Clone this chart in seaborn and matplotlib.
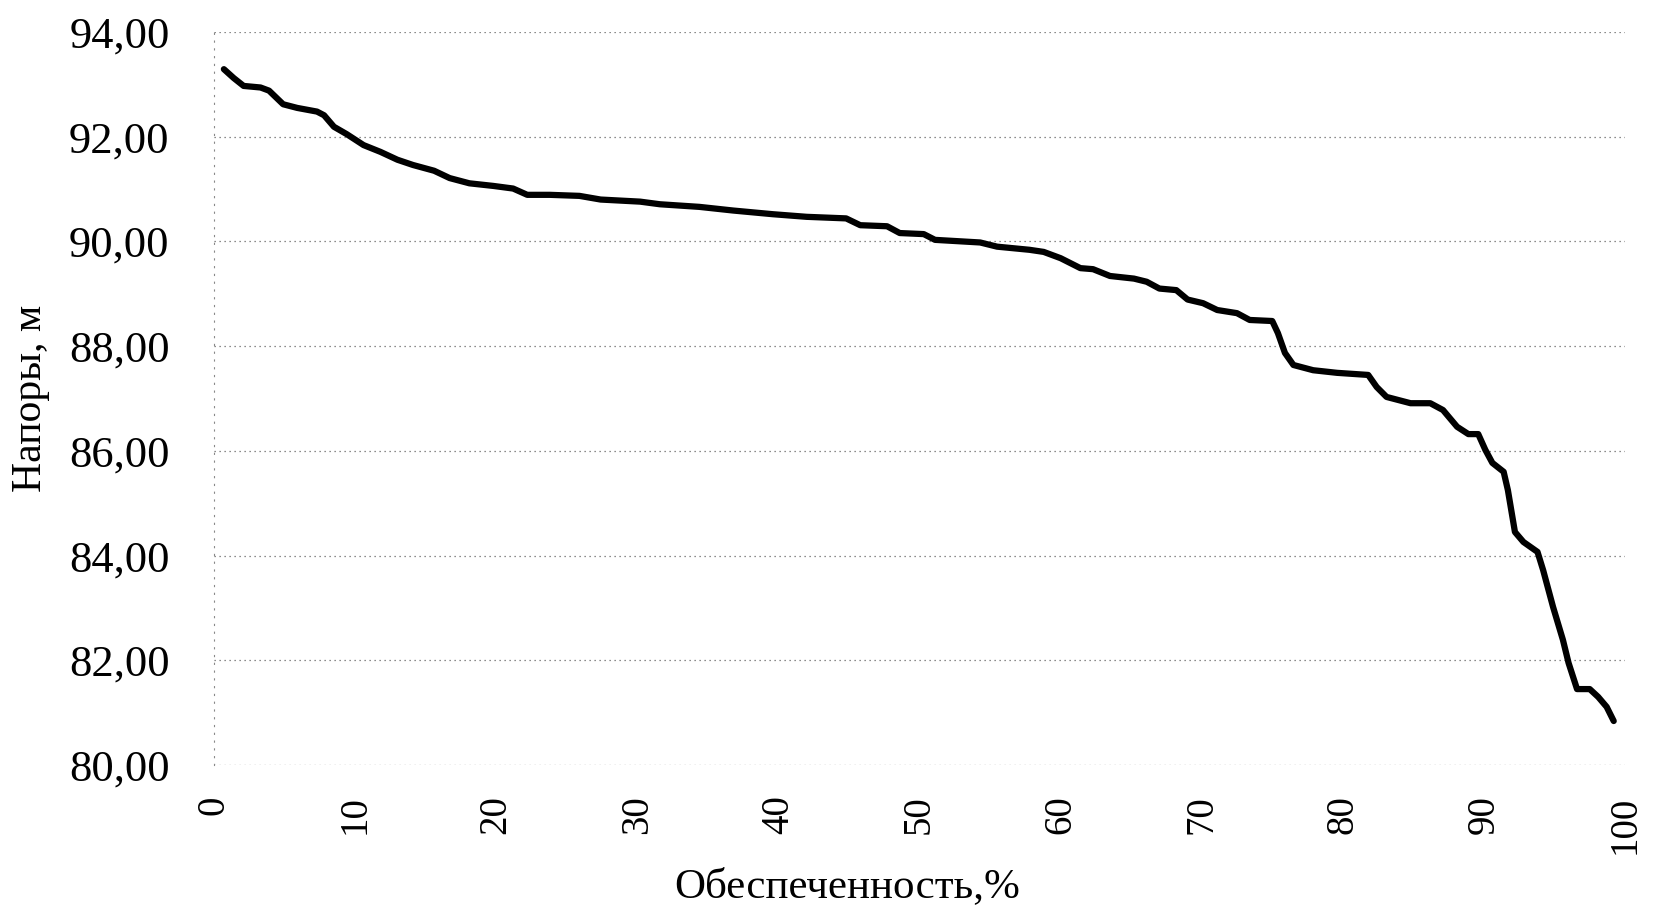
import matplotlib
matplotlib.use("Agg")
import matplotlib.pyplot as plt
import seaborn as sns
import pandas as pd
from matplotlib.ticker import FuncFormatter, MultipleLocator

# ---- data ----
provision = [0.7, 1.4, 2.1, 3.3, 3.9, 4.9, 5.9, 7.3, 7.8, 8.5, 9.4, 10.6, 11.8, 13.0,
             14.1, 15.6, 16.7, 18.1, 19.8, 21.2, 22.2, 23.8, 25.9, 27.4, 30.2, 31.6,
             34.4, 36.8, 39.6, 42.0, 44.8, 45.8, 47.7, 48.6, 50.3, 51.1, 54.3, 55.5,
             57.8, 58.8, 60.0, 61.4, 62.3, 63.5, 65.2, 66.1, 67.0, 68.2, 69.0, 70.1,
             71.1, 72.5, 73.4, 75.0, 75.4, 75.9, 76.5, 77.9, 79.6, 81.8, 82.4, 83.1,
             84.8, 86.2, 87.1, 88.1, 88.9, 89.6, 90.1, 90.6, 91.4, 91.7, 92.2, 92.8,
             93.8, 94.2, 94.9, 95.6, 96.0, 96.6, 97.5, 98.1, 98.7, 99.2]
head = [93.29, 93.12, 92.97, 92.94, 92.88, 92.62, 92.55, 92.48, 92.41, 92.19, 92.05,
        91.84, 91.71, 91.56, 91.46, 91.35, 91.21, 91.11, 91.06, 91.01, 90.89, 90.89,
        90.87, 90.80, 90.76, 90.71, 90.66, 90.59, 90.52, 90.47, 90.44, 90.31, 90.29,
        90.16, 90.14, 90.03, 89.98, 89.90, 89.84, 89.80, 89.68, 89.49, 89.47, 89.34,
        89.29, 89.23, 89.10, 89.07, 88.89, 88.82, 88.69, 88.63, 88.50, 88.48, 88.25,
        87.87, 87.64, 87.54, 87.49, 87.45, 87.22, 87.03, 86.91, 86.91, 86.78, 86.46,
        86.32, 86.32, 86.02, 85.77, 85.60, 85.25, 84.45, 84.26, 84.07, 83.72, 83.02,
        82.39, 81.95, 81.45, 81.45, 81.30, 81.11, 80.84]
x_ticks = [0, 10, 20, 30, 40, 50, 60, 70, 80, 90, 100]
y_ticks = [80, 82, 84, 86, 88, 90, 92, 94]
x_title = "Обеспеченность,%"
y_title = "Напоры, м"

df = pd.DataFrame({"x": provision, "y": head})

sns.set_style("white")
plt.rcParams["font.family"] = ["Liberation Serif", "DejaVu Serif"]

fig = plt.figure(figsize=(16.54, 9.13), dpi=100)
ax = fig.add_axes([214 / 1654, 1 - 765 / 913, 1411 / 1654, 733 / 913])

sns.lineplot(data=df, x="x", y="y", ax=ax, color="black", linewidth=4.5,
             solid_capstyle="round", solid_joinstyle="round")

ax.set_xlim(0, 100)
ax.set_ylim(80, 94)
ax.set_xticks(x_ticks)
ax.set_yticks(y_ticks)
ax.yaxis.set_major_formatter(FuncFormatter(lambda v, p: f"{v:.2f}".replace(".", ",")))
ax.set_xticklabels([str(t) for t in x_ticks], rotation=90)

ax.tick_params(axis="y", length=0, pad=32, labelsize=32, labelcolor="black")
ax.tick_params(axis="x", length=0, pad=22, labelsize=28, labelcolor="black")

ax.grid(axis="y", color="#666666", linestyle=(0, (1, 3)), linewidth=0.9)
ax.grid(axis="x", visible=False)
for s in ["top", "right", "bottom"]:
    ax.spines[s].set_visible(False)
ax.spines["left"].set_color("#888888")
ax.spines["left"].set_linestyle((0, (1, 6)))
ax.spines["left"].set_linewidth(0.8)

ax.set_xlabel(x_title, fontsize=31, color="black")
ax.xaxis.label.set_va("baseline")
ax.xaxis.set_label_coords(0.449, -0.180)
ax.set_ylabel(y_title, fontsize=30, color="black")
ax.yaxis.label.set_va("center")
ax.yaxis.set_label_coords(-0.130, 0.5)

fig.savefig("out.png", dpi=100, facecolor="white")
